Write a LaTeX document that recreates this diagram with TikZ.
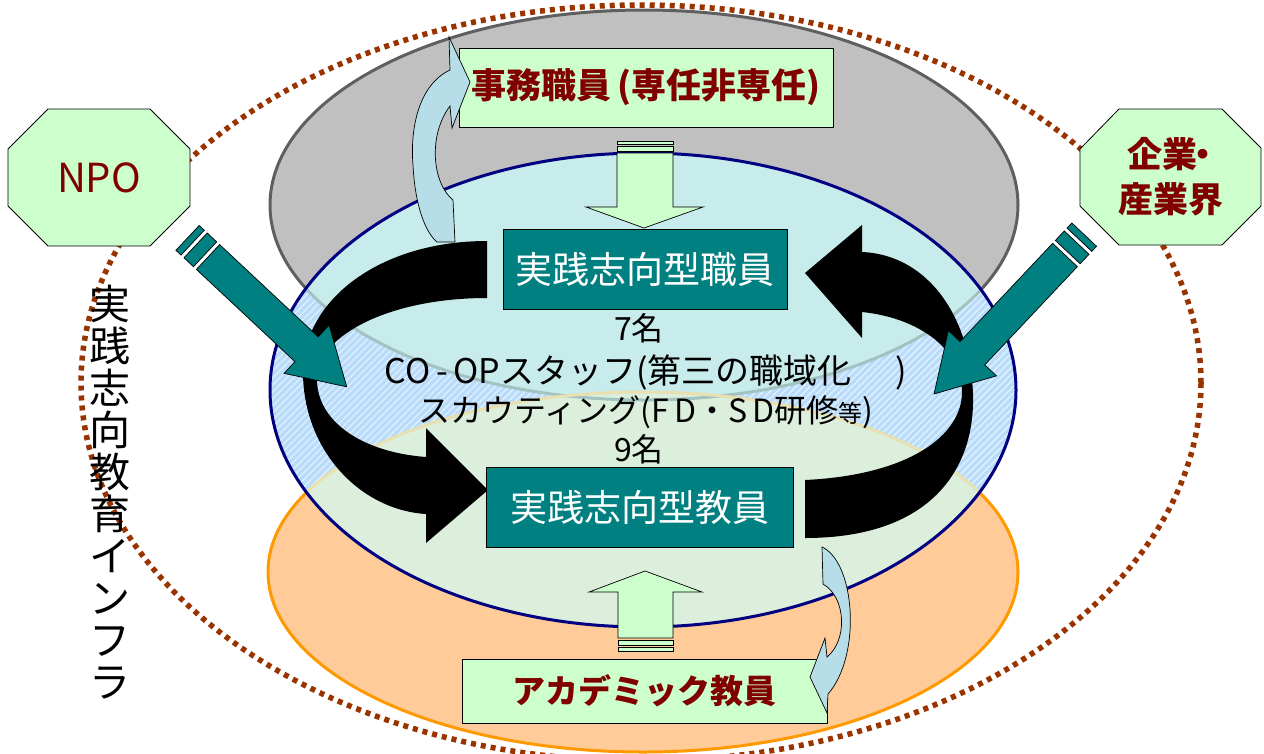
\documentclass[tikz,border=0pt]{standalone}
\usepackage{fontspec}
\setmainfont{Noto Sans CJK JP}
\definecolor{dred}{HTML}{800000}
\definecolor{tealc}{HTML}{008080}
\definecolor{lgreen}{HTML}{CCFFCC}
\definecolor{lbluea}{HTML}{B7DEE8}
\definecolor{grayf}{HTML}{C0C0C0}
\definecolor{grayl}{HTML}{5F5F5F}
\definecolor{navyl}{HTML}{000080}
\definecolor{orf}{HTML}{FFCC99}
\definecolor{orl}{HTML}{FF9900}
\definecolor{brownd}{HTML}{993300}
\definecolor{bluebase}{HTML}{E0F0FF}
\definecolor{bluestripe}{HTML}{B9DCFA}
\definecolor{bluegray}{HTML}{C8EBEB}
\definecolor{blueor}{HTML}{DCEEDC}
\definecolor{faintgray}{HTML}{A3C2C2}
\definecolor{faintor}{HTML}{E9E0B2}
\tikzset{
  gbox/.style={draw=black, line width=0.8pt, fill=lgreen, text=dred, inner sep=0pt},
  tbox/.style={draw=black, line width=0.8pt, fill=tealc, text=white, inner sep=0pt,
    font=\fontsize{37}{40}\selectfont},
  garrow/.style={draw=black, line width=0.7pt, fill=lgreen},
  barrow/.style={draw=black, line width=0.7pt, fill=lbluea},
  tarrow/.style={draw=black, line width=0.7pt, fill=tealc},
  octo/.style={draw=black, line width=0.8pt, fill=lgreen},
  ctext/.style={text=black, inner sep=0pt},
}
\begin{document}
\begin{tikzpicture}[x=1pt,y=-1pt]
\useasboundingbox (0,0) rectangle (1264,753);
% gray ellipse (top layer)
\fill[grayf] (644,205) ellipse [x radius=374, y radius=195];
\draw[grayl, line width=3pt] (644,205) ellipse [x radius=374, y radius=195];
% orange ellipse (bottom layer)
\filldraw[fill=orf, draw=orl, line width=3pt] (643,572) ellipse [x radius=375, y radius=180];
% blue ellipse (middle layer)
\begin{scope}
  \clip (643,390) ellipse [x radius=373, y radius=237];
  \fill[bluebase] (250,140) rectangle (1040,640);
  \foreach \k in {-110,-103,...,820} \draw[bluestripe, line width=3.2pt] (\k,680) -- ++(560,-560);
  \fill[bluegray] (644,205) ellipse [x radius=374, y radius=195];
  \fill[blueor] (643,572) ellipse [x radius=375, y radius=180];
  \draw[faintgray, line width=3pt] (644,205) ellipse [x radius=374, y radius=195];
  \draw[faintor, line width=3pt] (643,572) ellipse [x radius=375, y radius=180];
\end{scope}
\draw[navyl, line width=3pt] (643,390) ellipse [x radius=373, y radius=237];
% outer dotted ellipse
\draw[brownd, line width=5.5pt, dash pattern=on 5pt off 5pt] (641,383) ellipse [x radius=560, y radius=378];

% green boxes
\node[gbox, minimum width=374pt, minimum height=79pt, font=\fontsize{35}{40}\selectfont\bfseries] (jimu) at (646,87.5) {事務職員\,(専任非専任)};
\node[gbox, minimum width=365pt, minimum height=64pt, font=\fontsize{33}{40}\selectfont\bfseries] (acad) at (644.5,691) {アカデミック教員};

% light green block arrows
\filldraw[garrow] (617,153) -- (673,153) -- (673,207) -- (703,207) -- (644,228) -- (586,207) -- (617,207) -- cycle;
\filldraw[garrow] (617,146) rectangle (673,151.5);
\filldraw[garrow] (617,141) rectangle (673,144);
\filldraw[garrow] (618,638) -- (673,638) -- (673,592) -- (702,592) -- (645,571) -- (589,592) -- (618,592) -- cycle;
\filldraw[garrow] (618,640) rectangle (673,645);
\filldraw[garrow] (618,647) rectangle (673,651);

% light blue curved arrows
\filldraw[barrow] (455,242) -- (453,200) .. controls (432,183) and (428,135) .. (450,106)
  -- (452,128) -- (470,82) -- (449,37) -- (450,70)
  .. controls (418,85) and (410,130) .. (413,165) .. controls (415,205) and (425,232) .. (437,242) -- cycle;
\filldraw[barrow] (822,547) .. controls (855,562) and (862,655) .. (828,694)
  -- (827,713) -- (810,677) -- (825,638) -- (827,657)
  .. controls (848,640) and (846,597) .. (823,584) -- cycle;

% black curved arrows
\fill[black] (487,241) .. controls (380,241) and (303,300) .. (303,372)
  .. controls (303,450) and (360,510) .. (426,514) -- (426,543) -- (488,490) -- (426,428) -- (426,457)
  .. controls (360,452) and (316,420) .. (317,378) .. controls (318,335) and (390,298) .. (487,298) -- cycle;
\fill[black] (805,480) -- (805,538) .. controls (930,538) and (975,470) .. (973,395)
  .. controls (971,320) and (930,255) .. (862,252) -- (862,225) -- (805,273) -- (862,338) -- (862,312)
  .. controls (920,318) and (962,350) .. (962,392) .. controls (962,435) and (910,475) .. (805,480) -- cycle;

% teal boxes
\node[tbox, minimum width=284pt, minimum height=80pt] (shokuin) at (645,269) {実践志向型職員};
\node[tbox, minimum width=307pt, minimum height=80pt] (kyoin) at (639.5,507) {実践志向型教員};

% center texts
\node[ctext, font=\fontsize{32}{36}\selectfont] (n7) at (639,328) {7名};
\node[ctext, font=\fontsize{34}{38}\selectfont] (coop) at (646,372) {CO\,-\,OPスタッフ(第三の職域化\hspace{44pt})};
\node[ctext, font=\fontsize{32}{36}\selectfont] (scout) at (646,412) {スカウティング(F\,D・S\,D研修{\fontsize{24}{24}\selectfont 等})};
\node[ctext, font=\fontsize{32}{36}\selectfont] (n9) at (639,449) {9名};

% teal striped arrows
\begin{scope}[shift={(208,257)}, rotate=-43.1]
  \filldraw[tarrow] (0,-17) -- (135,-17) -- (135,-33) -- (190,0) -- (135,33) -- (135,17) -- (0,17) -- cycle;
  \filldraw[tarrow] (-17,-17) rectangle (-4,17);
  \filldraw[tarrow] (-28,-17) rectangle (-21,17);
\end{scope}
\begin{scope}[shift={(1065,255)}, rotate=-133.3]
  \filldraw[tarrow] (0,-17) -- (135,-17) -- (135,-33) -- (191,0) -- (135,33) -- (135,17) -- (0,17) -- cycle;
  \filldraw[tarrow] (-17,-17) rectangle (-4,17);
  \filldraw[tarrow] (-28,-17) rectangle (-21,17);
\end{scope}

% octagons
\filldraw[octo] (48,109) -- (150,109) -- (190,149) -- (190,206) -- (150,246) -- (48,246) -- (8,206) -- (8,149) -- cycle;
\node[text=dred, font=\fontsize{40}{44}\selectfont] (npo) at (99,177.5) {NPO};
\filldraw[octo] (1119,109) -- (1222,109) -- (1261,148) -- (1261,206) -- (1222,245) -- (1119,245) -- (1080,206) -- (1080,149) -- cycle;
\node[text=dred, align=center, font=\fontsize{35}{45}\selectfont\bfseries] (kigyo) at (1170.5,177) {\hspace{6pt}企業\hspace{-12pt}・\hspace{-6pt}\\産業界};

% vertical label
\node[text=black, align=center, inner sep=0pt, font=\fontsize{41}{42}\selectfont] (infra) at (110,492)
  {実\\践\\志\\向\\教\\育\\イ\\ン\\フ\\ラ};
\end{tikzpicture}
\end{document}
